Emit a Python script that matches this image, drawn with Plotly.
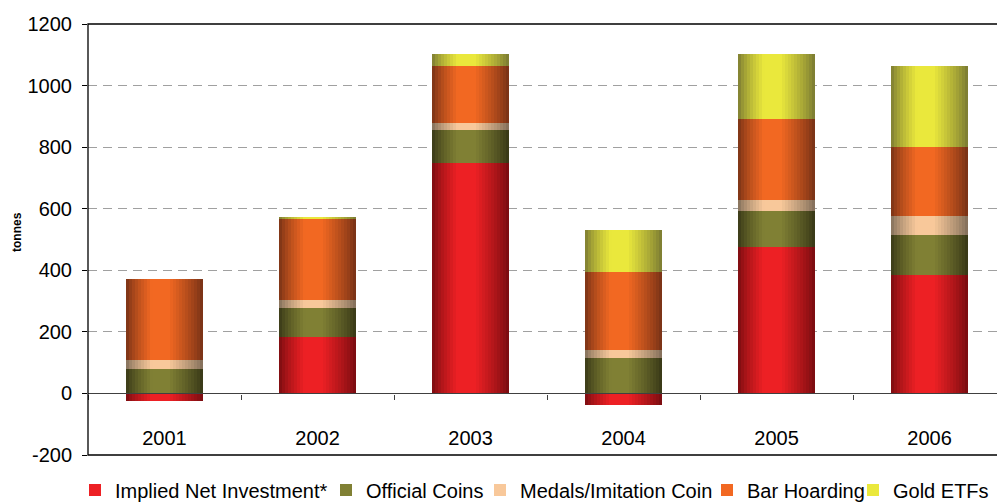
import plotly.graph_objects as go

# Gold investment demand by component, tonnes
years = ["2001", "2002", "2003", "2004", "2005", "2006"]
implied_net_investment = [-26, 182, 750, -36, 477, 386]
official_coins = [80, 97, 107, 114, 114, 130]
medals_imitation = [30, 26, 23, 26, 36, 59]
bar_hoarding = [263, 263, 182, 256, 263, 227]
gold_etfs = [0, 5, 42, 136, 211, 263]

series_names = ["Implied Net Investment*", "Official Coins", "Medals/Imitation Coin",
                "Bar Hoarding", "Gold ETFs"]
series_values = [implied_net_investment, official_coins, medals_imitation,
                 bar_hoarding, gold_etfs]

y_tick_values = [-200, 0, 200, 400, 600, 800, 1000, 1200]
y_tick_labels = ["-200", "0", "200", "400", "600", "800", "1000", "1200"]

# (bright centre colour, dark edge colour) for each series
palette = [
    ((237, 32, 36), (118, 12, 16)),
    ((128, 128, 52), (54, 54, 22)),
    ((248, 200, 154), (126, 108, 88)),
    ((242, 104, 34), (116, 48, 22)),
    ((234, 232, 60), (120, 120, 50)),
]

# Left edge (px) of each legend entry's text along the bottom row
legend_text_px = [115, 366, 520, 747, 893]

PLOT_LEFT, PLOT_RIGHT, PLOT_TOP, PLOT_BOTTOM = 88, 997, 24, 455
plot_w = PLOT_RIGHT - PLOT_LEFT
plot_h = PLOT_BOTTOM - PLOT_TOP

# Relative stacking: positives stack upward from zero, negatives downward.
bases = []
pos_cum = [0.0] * len(years)
neg_cum = [0.0] * len(years)
for vals in series_values:
    b = []
    for i, v in enumerate(vals):
        if v >= 0:
            b.append(pos_cum[i])
            pos_cum[i] += v
        else:
            b.append(neg_cum[i])
            neg_cum[i] += v
    bases.append(b)


def shade(u):
    """Brightness profile across a bar: dark edges, bright middle."""
    if u < 0.33:
        return (u / 0.33) ** 0.75
    if u <= 0.56:
        return 1.0
    return ((1 - u) / 0.44) ** 0.85


def mix(bright, dark, t):
    return "rgb({},{},{})".format(*[round(d + (b - d) * t) for b, d in zip(bright, dark)])


BAR_W = 0.5
N_SLICES = 26
step = BAR_W / N_SLICES

fig = go.Figure()
for s, (name, vals) in enumerate(zip(series_names, series_values)):
    bright, dark = palette[s]
    legend_id = "legend" if s == 0 else f"legend{s + 1}"
    for k in range(N_SLICES):
        u = (k + 0.5) / N_SLICES
        fig.add_trace(go.Bar(
            x=years, y=vals, base=bases[s],
            name=name, legendgroup=name, legend=legend_id,
            showlegend=(k == N_SLICES // 2 - 2),
            offset=-BAR_W / 2 + k * step,
            width=step * 1.15 if k < N_SLICES - 1 else step,
            marker=dict(color=mix(bright, dark, shade(u)), line=dict(width=0)),
            hoverinfo="skip",
        ))

font_family = "Arial, Liberation Sans, sans-serif"

# One single-entry legend per series so the bottom row keeps its tight spacing
legend_y = (PLOT_BOTTOM - 490) / plot_h
legends = {}
for s, tx in enumerate(legend_text_px):
    key = "legend" if s == 0 else f"legend{s + 1}"
    legends[key] = dict(
        orientation="h", x=(tx - 40 - PLOT_LEFT) / plot_w, xanchor="left",
        y=legend_y, yanchor="middle",
        font=dict(size=20, family=font_family, color="black"),
        itemwidth=30, bgcolor="rgba(0,0,0,0)", borderwidth=0,
    )

fig.update_layout(
    width=997, height=502,
    margin=dict(l=PLOT_LEFT, r=0, t=PLOT_TOP, b=502 - PLOT_BOTTOM, autoexpand=False),
    paper_bgcolor="white", plot_bgcolor="white",
    barmode="overlay", bargap=0,
    font=dict(family=font_family, size=20, color="black"),
    showlegend=True,
    xaxis=dict(
        type="category", range=[-0.5, 5.441],
        anchor="free", position=1 / 7,
        showline=True, linecolor="#404040", linewidth=1.3,
        ticks="outside", ticklen=5, tickcolor="#404040", tickson="boundaries",
        ticklabelstandoff=26,
        showgrid=False, zeroline=False,
        tickfont=dict(size=20), automargin=False,
    ),
    yaxis=dict(
        range=[-200, 1200], tickvals=y_tick_values, ticktext=y_tick_labels,
        showline=False, ticks="outside", ticklen=5, tickcolor="black",
        showgrid=True, gridcolor="#a0a0a0", griddash="9px,6px", gridwidth=1,
        zeroline=False, ticklabelstandoff=6,
        tickfont=dict(size=20),
        automargin=False,
    ),
    annotations=[dict(
        text="<b>tonnes</b>", textangle=-90, showarrow=False,
        xref="paper", yref="paper", x=0, xshift=17 - PLOT_LEFT,
        y=(PLOT_BOTTOM - 232) / plot_h, xanchor="center", yanchor="middle",
        font=dict(size=12, family=font_family, color="black"),
    )],
    shapes=[dict(
        type="rect", xref="x domain", yref="y domain",
        x0=0, x1=1.02, y0=0, y1=1,
        line=dict(color="black", width=1.3), layer="above",
    )],
    **legends,
)

fig.write_html("out.html")
